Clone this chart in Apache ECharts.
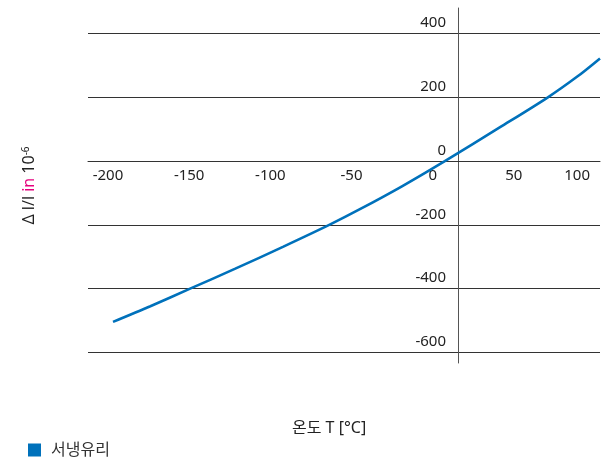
<!DOCTYPE html>
<html>
<head>
<meta charset="utf-8">
<script src="https://cdn.jsdelivr.net/npm/echarts@6/dist/echarts.min.js"></script>
<style>
html,body{margin:0;padding:0;background:#fff;}
#c{width:609px;height:458px;}
</style>
</head>
<body>
<div id="c"></div>
<script>
// Data
var temperatures = [-200, -177, -152.5, -125, -95, -66.8, -47.6, -22, 4.4, 38.7, 67.9, 86, 100];
var expansion    = [-504, -455, -400, -338, -268, -200, -150, -79, 0, 107, 200, 265, 322];
var xTickLabels = [-200, -150, -100, -50, 0, 50, 100];
var yTickLabels = [-600, -400, -200, 0, 200, 400];
var seriesName = '서냉유리';
var xAxisTitle = '온도 T [°C]';

var FONT = '"Noto Sans", "Noto Sans CJK KR", sans-serif';
var chart = echarts.init(document.getElementById('c'), null, {renderer: 'canvas'});
var lineData = temperatures.map(function (t, i) { return [t, expansion[i]]; });

chart.setOption({
  animation: false,
  backgroundColor: '#fff',
  textStyle: {fontFamily: FONT},
  title: {
    text: xAxisTitle,
    left: 292,
    top: 420,
    padding: 0,
    textStyle: {fontSize: 16, fontWeight: 'normal', color: '#222', fontFamily: FONT}
  },
  legend: {
    left: 28,
    top: 442,
    padding: 0,
    itemWidth: 13,
    itemHeight: 13,
    icon: 'rect',
    textStyle: {fontSize: 16, color: '#333', fontFamily: FONT, padding: [0, 0, 0, 5]},
    data: [seriesName]
  },
  grid: {left: 88, right: 9, top: 8, bottom: 95, containLabel: false},
  xAxis: {
    type: 'value',
    min: -215.4,
    max: 100,
    position: 'bottom',
    offset: -202,
    axisLine: {show: true, onZero: false, lineStyle: {color: '#333', width: 1}},
    axisTick: {show: false, customValues: xTickLabels},
    splitLine: {show: false},
    axisLabel: {
      customValues: xTickLabels,
      fontSize: 15,
      color: '#222',
      margin: 7,
      padding: [0, 10, 0, 0],
      alignMaxLabel: 'right',
      fontFamily: FONT
    }
  },
  yAxis: {
    type: 'value',
    min: -633,
    max: 480,
    offset: -370,
    name: '{a|Δ l/l }{b|in}{a| 10}{s|-6}',
    nameLocation: 'middle',
    nameRotate: 90,
    nameGap: 421,
    nameTextStyle: {
      rich: {
        a: {fontSize: 16, color: '#222', fontFamily: FONT},
        b: {fontSize: 16, color: '#e5007d', fontFamily: FONT},
        s: {fontSize: 10, color: '#222', verticalAlign: 'top', fontFamily: FONT}
      }
    },
    axisLine: {show: true, onZero: false, lineStyle: {color: '#555', width: 1}},
    axisTick: {show: false, customValues: yTickLabels},
    splitLine: {show: true, lineStyle: {color: '#333', width: 1}},
    axisLabel: {
      customValues: yTickLabels,
      fontSize: 15,
      color: '#222',
      margin: 12,
      verticalAlign: 'bottom',
      padding: [0, 0, 3, 0],
      fontFamily: FONT
    }
  },
  series: [{
    name: seriesName,
    type: 'line',
    data: lineData,
    smooth: 0.3,
    showSymbol: false,
    symbol: 'none',
    color: '#0071bb',
    lineStyle: {color: '#0071bb', width: 2.6},
    z: 5
  }]
});
</script>
</body>
</html>
